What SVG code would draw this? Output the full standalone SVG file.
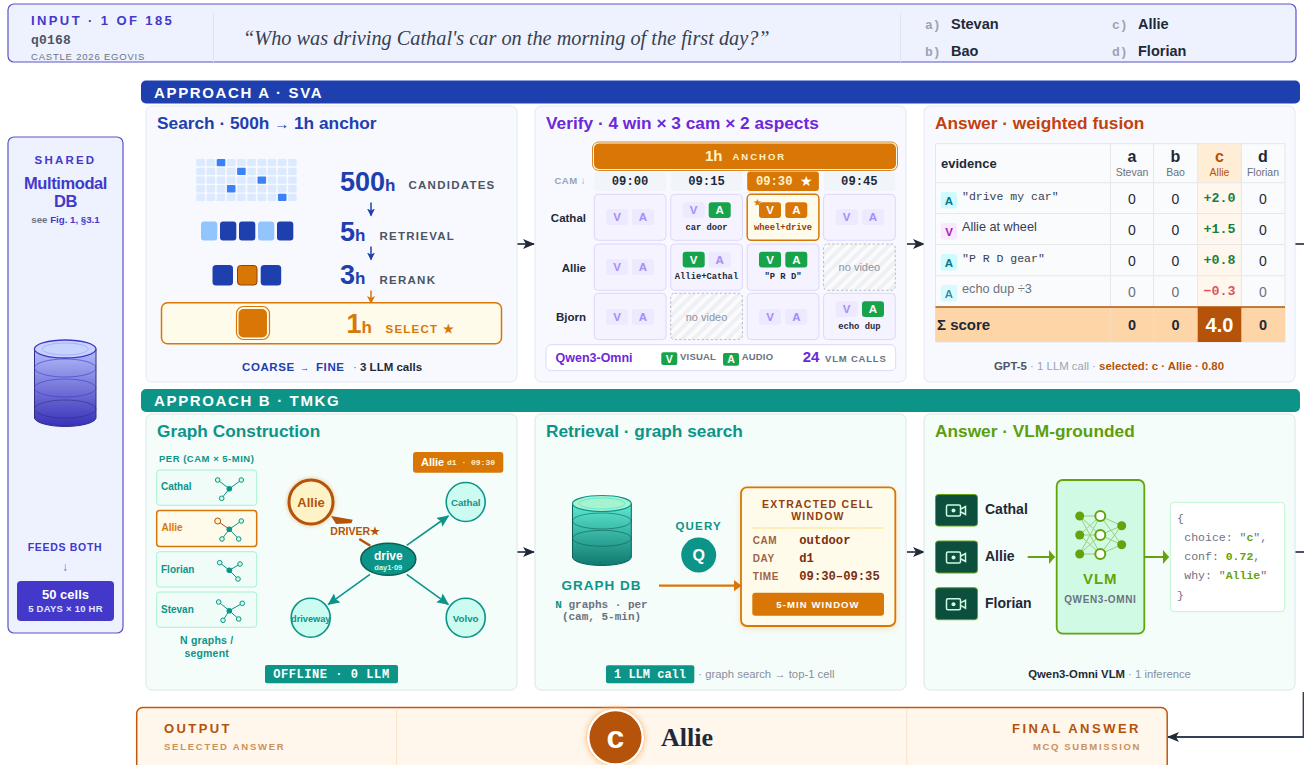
<svg xmlns="http://www.w3.org/2000/svg" width="1304" height="765" viewBox="0 0 1304 765">
<style>
text{font-family:"Liberation Sans",Arial,sans-serif;white-space:pre}
.m{font-family:"Liberation Mono","Courier New",monospace}
.s{font-family:"Liberation Serif","Times New Roman",serif}
.b{font-weight:700}
.c{text-anchor:middle}
.e{text-anchor:end}
.pa{fill:#f8f9ff;stroke:#e2e8f0;stroke-width:1}
.pb{fill:#f5fdfa;stroke:#dbe5ea;stroke-width:1}
.ttl{font-size:17.3px;font-weight:700}
.cell{fill:#f5f3ff;stroke:#ddd6fe;stroke-width:1}
.nv{fill:url(#hatch);stroke:#b6bcc6;stroke-width:1;stroke-dasharray:2.5 2}
.nvt{font-size:11px;fill:#8a94a3;text-anchor:middle}
.cf{fill:#ede9fe}
.cg{fill:#16a34a}
.co{fill:#d97706}
.tf{font-size:11.5px;font-weight:700;fill:#a78bfa;text-anchor:middle}
.tw{font-size:11.5px;font-weight:700;fill:#fff;text-anchor:middle}
.cap{font-size:8.8px;font-weight:700;fill:#1f2937;text-anchor:middle;font-family:"Liberation Mono",monospace}
.hdr{fill:#f1f5f9}
.ht{font-size:12.2px;font-weight:700;fill:#1f2937;text-anchor:middle;font-family:"Liberation Mono",monospace}
.rl{font-size:11.5px;font-weight:700;fill:#1f2937;text-anchor:end}
.num{fill:#1e40af;font-weight:700}
.stg{font-size:11.5px;font-weight:700;letter-spacing:1.25px;fill:#4b5563}
.tl{stroke:#e5e7eb;stroke-width:1;fill:none}
.z{font-size:14px;fill:#1f2937;text-anchor:middle}
.zg{font-size:14px;fill:#6b7280;text-anchor:middle}
.h1{font-size:16px;font-weight:700;fill:#1f2937;text-anchor:middle}
.h2{font-size:10.5px;fill:#6b7280;text-anchor:middle}
.v{font-size:13.3px;font-weight:700;fill:#15803d;text-anchor:middle;font-family:"Liberation Mono",monospace}
.ca{fill:#cffafe}
.ct{font-size:11.5px;font-weight:700;fill:#0e7490;text-anchor:middle}
.et{font-size:11.5px;fill:#374151;font-family:"Liberation Mono",monospace}
.zb{font-size:14.5px;font-weight:700;fill:#1f2937;text-anchor:middle}
.card{fill:#effcf8;stroke:#a7f3d0;stroke-width:1}
.cl{font-size:10px;font-weight:700;fill:#0d9488}
.gl{stroke:#0d9488;stroke-width:1;fill:none}
.sat{fill:#d1fae5;stroke:#0d9488;stroke-width:1}
.hub{fill:#0d9488}
.gn{fill:#ccfbf1;stroke:#0d9488;stroke-width:1.6}
.gt{font-size:9.7px;font-weight:700;fill:#0d9488;text-anchor:middle}
.ge{stroke:#0d9488;stroke-width:1.6;fill:none;marker-end:url(#mt)}
.kl{font-size:10px;font-weight:700;letter-spacing:.6px;fill:#a16242}
.kv{font-size:12.2px;font-weight:700;fill:#7c2d12;font-family:"Liberation Mono",monospace}
.cam{fill:#0b4f3c;stroke:#65a30d;stroke-width:1}
.ci{fill:none;stroke:#d1fae5;stroke-width:1.5}
.cn{font-size:14px;font-weight:700;fill:#1f2937}
.nf{fill:#65a30d}
.no{fill:#fff;stroke:#65a30d;stroke-width:2}
.ne{stroke:#65a30d;stroke-width:1;opacity:.5}
.j{font-size:11.5px;fill:#6b7280;font-family:"Liberation Mono",monospace}
.jb{font-weight:700;fill:#65a30d}
.conn{stroke:#1f2937;stroke-width:1.6;fill:none}
.tail{stroke:#334155;stroke-width:1.8;fill:none}
.opt{font-size:13px;font-weight:700;fill:#9ca3af;font-family:"Liberation Mono",monospace}
.ans{font-size:14.5px;font-weight:700;fill:#1f2937}
</style>
<defs>
<pattern id="hatch" width="8" height="8" patternUnits="userSpaceOnUse" patternTransform="rotate(45)"><rect width="8" height="8" fill="#fbfbfd"/><rect width="4" height="8" fill="#eef0f4"/></pattern>
<linearGradient id="gdb" x1="0" y1="0" x2="0" y2="1"><stop offset="0" stop-color="#b4bdfb"/><stop offset="1" stop-color="#3730b8"/></linearGradient>
<linearGradient id="ggdb" x1="0" y1="0" x2="0" y2="1"><stop offset="0" stop-color="#5eead4"/><stop offset="1" stop-color="#0f7a70"/></linearGradient>
<filter id="glow" x="-40%" y="-40%" width="180%" height="180%"><feGaussianBlur stdDeviation="2"/></filter>
<filter id="sh" x="-10%" y="-10%" width="120%" height="125%"><feDropShadow dx="0" dy="2" stdDeviation="3" flood-color="#d97706" flood-opacity=".2"/></filter>
<marker id="md" viewBox="0 0 12 10" refX="11" refY="5" markerWidth="12" markerHeight="10" markerUnits="userSpaceOnUse" orient="auto"><path d="M0 0L12 5L0 10L3 5Z" fill="#1f2937"/></marker>
<marker id="mt" viewBox="0 0 12 11" refX="11" refY="5.500" markerWidth="12" markerHeight="11" markerUnits="userSpaceOnUse" orient="auto"><path d="M0 0L12 5.500L0 11L2 5.500Z" fill="#0d9488"/></marker>
<marker id="mo" viewBox="0 0 8 12" refX="7.500" refY="6" markerWidth="8" markerHeight="12" markerUnits="userSpaceOnUse" orient="auto"><path d="M0 0L8 6L0 12Z" fill="#d97706"/></marker>
<marker id="ml" viewBox="0 0 6 14" refX="5.500" refY="7" markerWidth="6" markerHeight="14" markerUnits="userSpaceOnUse" orient="auto"><path d="M0 0L6 7L0 14Z" fill="#65a30d"/></marker>
<marker id="mb" viewBox="0 0 8 8" refX="7" refY="4" markerWidth="8" markerHeight="8" markerUnits="userSpaceOnUse" orient="auto"><path d="M0 0L8 4L0 8L2 4Z" fill="#1e40af"/></marker>
<marker id="mb2" viewBox="0 0 8 8" refX="7" refY="4" markerWidth="8" markerHeight="8" markerUnits="userSpaceOnUse" orient="auto"><path d="M0 0L8 4L0 8L2 4Z" fill="#d97706"/></marker>
</defs>
<rect width="1304" height="765" fill="#fff"/>

<g id="connectors">
<path class="conn" d="M517 244H534" marker-end="url(#md)"/>
<path class="conn" d="M907 244H924" marker-end="url(#md)"/>
<path class="conn" d="M517 552H534" marker-end="url(#md)"/>
<path class="conn" d="M907 552H924" marker-end="url(#md)"/>
<path class="tail" d="M1295 244H1304"/>
<path class="tail" d="M1295 552H1304"/>
<path class="tail" d="M1303.500 692V737H1168" marker-end="url(#md)"/>
</g>

<g id="input-bar">
<rect x="8" y="4" width="1288" height="58" rx="6" fill="#eef2ff" stroke="#5b52c8" stroke-width="1.2"/>
<path d="M213.500 13V62M900.500 13V62" stroke="#dfe3f0" stroke-width="1"/>
<text x="31" y="25" font-size="13" font-weight="700" letter-spacing="2.400" fill="#4338ca">INPUT · 1 OF 185</text>
<text x="31" y="44" class="m b" font-size="13" letter-spacing=".2" fill="#4b5563">q0168</text>
<text x="31" y="60" font-size="9.500" letter-spacing=".8" fill="#6b7280">CASTLE 2026 EGOVIS</text>
<text x="243" y="45" class="s" font-size="20.300" font-style="italic" fill="#374151">“Who was driving Cathal's car on the morning of the first day?”</text>
<text x="925" y="29" class="opt">a)</text><text x="951" y="29" class="ans">Stevan</text>
<text x="925" y="56" class="opt">b)</text><text x="951" y="56" class="ans">Bao</text>
<text x="1112" y="29" class="opt">c)</text><text x="1138" y="29" class="ans">Allie</text>
<text x="1112" y="56" class="opt">d)</text><text x="1138" y="56" class="ans">Florian</text>
</g>

<g id="banner-a"><rect x="141" y="80.500" width="1159" height="23" rx="5" fill="#1e40af"/><text x="154" y="98" font-size="15" font-weight="700" letter-spacing="1.650" fill="#fff">APPROACH A · SVA</text></g>
<g id="banner-b"><rect x="141" y="389" width="1159" height="23" rx="5" fill="#0d9488"/><text x="154" y="406" font-size="15" font-weight="700" letter-spacing="1.650" fill="#fff">APPROACH B · TMKG</text></g>

<g id="shared-db">
<rect x="8" y="137" width="115" height="496" rx="6" fill="#eef2ff" stroke="#5b52c8" stroke-width="1.2"/>
<text x="65.500" y="164" class="c b" font-size="11.500" letter-spacing="2.200" fill="#4338ca">SHARED</text>
<text x="65.500" y="189" class="c b" font-size="16.500" letter-spacing="-.4" fill="#4338ca">Multimodal</text>
<text x="65.500" y="206.500" class="c b" font-size="16.500" letter-spacing="-.4" fill="#4338ca">DB</text>
<text x="65.500" y="223" class="c" font-size="9.700" font-weight="700"><tspan fill="#6b7280">see </tspan><tspan fill="#4338ca">Fig. 1, §3.1</tspan></text>
<path d="M34.500 349V418A30.800 9 0 0 0 96 418V349Z" fill="url(#gdb)" stroke="#312e81" stroke-width="1"/>
<ellipse cx="65.200" cy="368" rx="30.800" ry="9" fill="none" stroke="#4338ca" stroke-opacity=".6"/>
<ellipse cx="65.200" cy="388" rx="30.800" ry="9" fill="none" stroke="#4338ca" stroke-opacity=".6"/>
<ellipse cx="65.200" cy="409" rx="30.800" ry="9" fill="none" stroke="#312e81" stroke-opacity=".6"/>
<ellipse cx="65.200" cy="349" rx="30.800" ry="9" fill="#c7d2fe" stroke="#4338ca" stroke-width="1.300"/>
<ellipse cx="65.200" cy="349" rx="23" ry="6" fill="none" stroke="#a5b4fc" stroke-width="1"/>
<text x="65" y="551" class="c b" font-size="10.500" letter-spacing=".7" fill="#4338ca">FEEDS BOTH</text>
<text x="65" y="571" class="c" font-size="12" fill="#6366f1">↓</text>
<rect x="17" y="581" width="97" height="40" rx="4" fill="#4338ca"/>
<text x="65.500" y="599" class="c b" font-size="13" fill="#fff">50 cells</text>
<text x="65.500" y="612" class="c b" font-size="9.500" letter-spacing=".25" fill="#e0e7ff">5 DAYS × 10 HR</text>
</g>

<g id="panel-search">
<rect class="pa" x="146" y="106" width="371" height="276" rx="6"/>
<text x="157" y="129" class="ttl" fill="#1e40af">Search · 500h <tspan font-size="15">→</tspan> 1h anchor</text>
<g fill="#dbeafe">
<rect x="196.300" y="159" width="8.600" height="7.300" rx="1"/><rect x="206.500" y="159" width="8.600" height="7.300" rx="1"/><rect x="216.700" y="159" width="8.600" height="7.300" rx="1" fill="#3b82f6"/><rect x="226.900" y="159" width="8.600" height="7.300" rx="1"/><rect x="237.100" y="159" width="8.600" height="7.300" rx="1"/><rect x="247.300" y="159" width="8.600" height="7.300" rx="1"/><rect x="257.500" y="159" width="8.600" height="7.300" rx="1"/><rect x="267.700" y="159" width="8.600" height="7.300" rx="1"/><rect x="277.900" y="159" width="8.600" height="7.300" rx="1"/><rect x="288.100" y="159" width="8.600" height="7.300" rx="1"/>
<rect x="196.300" y="167.700" width="8.600" height="7.300" rx="1"/><rect x="206.500" y="167.700" width="8.600" height="7.300" rx="1"/><rect x="216.700" y="167.700" width="8.600" height="7.300" rx="1"/><rect x="226.900" y="167.700" width="8.600" height="7.300" rx="1"/><rect x="237.100" y="167.700" width="8.600" height="7.300" rx="1" fill="#3b82f6"/><rect x="247.300" y="167.700" width="8.600" height="7.300" rx="1"/><rect x="257.500" y="167.700" width="8.600" height="7.300" rx="1"/><rect x="267.700" y="167.700" width="8.600" height="7.300" rx="1"/><rect x="277.900" y="167.700" width="8.600" height="7.300" rx="1"/><rect x="288.100" y="167.700" width="8.600" height="7.300" rx="1"/>
<rect x="196.300" y="176.400" width="8.600" height="7.300" rx="1"/><rect x="206.500" y="176.400" width="8.600" height="7.300" rx="1"/><rect x="216.700" y="176.400" width="8.600" height="7.300" rx="1"/><rect x="226.900" y="176.400" width="8.600" height="7.300" rx="1"/><rect x="237.100" y="176.400" width="8.600" height="7.300" rx="1"/><rect x="247.300" y="176.400" width="8.600" height="7.300" rx="1"/><rect x="257.500" y="176.400" width="8.600" height="7.300" rx="1" fill="#3b82f6"/><rect x="267.700" y="176.400" width="8.600" height="7.300" rx="1"/><rect x="277.900" y="176.400" width="8.600" height="7.300" rx="1"/><rect x="288.100" y="176.400" width="8.600" height="7.300" rx="1"/>
<rect x="196.300" y="185.100" width="8.600" height="7.300" rx="1"/><rect x="206.500" y="185.100" width="8.600" height="7.300" rx="1"/><rect x="216.700" y="185.100" width="8.600" height="7.300" rx="1"/><rect x="226.900" y="185.100" width="8.600" height="7.300" rx="1" fill="#3b82f6"/><rect x="237.100" y="185.100" width="8.600" height="7.300" rx="1"/><rect x="247.300" y="185.100" width="8.600" height="7.300" rx="1"/><rect x="257.500" y="185.100" width="8.600" height="7.300" rx="1"/><rect x="267.700" y="185.100" width="8.600" height="7.300" rx="1"/><rect x="277.900" y="185.100" width="8.600" height="7.300" rx="1"/><rect x="288.100" y="185.100" width="8.600" height="7.300" rx="1"/>
<rect x="196.300" y="193.800" width="8.600" height="7.300" rx="1"/><rect x="206.500" y="193.800" width="8.600" height="7.300" rx="1"/><rect x="216.700" y="193.800" width="8.600" height="7.300" rx="1"/><rect x="226.900" y="193.800" width="8.600" height="7.300" rx="1"/><rect x="237.100" y="193.800" width="8.600" height="7.300" rx="1"/><rect x="247.300" y="193.800" width="8.600" height="7.300" rx="1"/><rect x="257.500" y="193.800" width="8.600" height="7.300" rx="1"/><rect x="267.700" y="193.800" width="8.600" height="7.300" rx="1"/><rect x="277.900" y="193.800" width="8.600" height="7.300" rx="1" fill="#3b82f6"/><rect x="288.100" y="193.800" width="8.600" height="7.300" rx="1"/>
</g>
<g>
<rect x="201" y="221.500" width="16.300" height="19" rx="3" fill="#93c5fd"/><rect x="220" y="221.500" width="16.300" height="19" rx="3" fill="#1e40af"/><rect x="239" y="221.500" width="16.300" height="19" rx="3" fill="#1e40af"/><rect x="258" y="221.500" width="16.300" height="19" rx="3" fill="#93c5fd"/><rect x="277" y="221.500" width="16.300" height="19" rx="3" fill="#1e40af"/>
<rect x="212.500" y="265" width="20.500" height="20.500" rx="3.500" fill="#1e40af"/><rect x="237.500" y="265.500" width="19.500" height="19.500" rx="3" fill="#d97706" stroke="#92400e" stroke-width="1"/><rect x="260.700" y="265" width="20.500" height="20.500" rx="3.500" fill="#1e40af"/>
</g>
<text x="340" y="190.500" class="num" font-size="27">500<tspan font-size="17">h</tspan></text>
<text x="408.500" y="189" class="stg">CANDIDATES</text>
<text x="340" y="240.500" class="num" font-size="27">5<tspan font-size="17">h</tspan></text>
<text x="379.500" y="240" class="stg">RETRIEVAL</text>
<text x="340" y="284" class="num" font-size="27">3<tspan font-size="17">h</tspan></text>
<text x="379.500" y="284" class="stg">RERANK</text>
<path d="M371 202.500V215.500" stroke="#1e40af" stroke-width="1.500" fill="none" marker-end="url(#mb)"/>
<path d="M371 246.500V259.500" stroke="#1e40af" stroke-width="1.500" fill="none" marker-end="url(#mb)"/>
<path d="M371 290.500V303" stroke="#d97706" stroke-width="1.500" fill="none" marker-end="url(#mb2)"/>
<rect x="161.500" y="302.800" width="340" height="41" rx="6" fill="#fefbea" stroke="#d97706" stroke-width="1.500"/>
<rect x="236.500" y="306.500" width="33" height="33" rx="7" fill="#fefbea" stroke="#d97706" stroke-width="1.200"/>
<rect x="238.500" y="309" width="28.500" height="28.500" rx="5" fill="#d97706"/>
<text x="346.500" y="332.500" class="b" font-size="27" fill="#d97706">1<tspan font-size="17">h</tspan></text>
<text x="385.500" y="332.500" class="b" font-size="11.500" letter-spacing="1.250" fill="#d97706">SELECT ★</text>
<text x="242" y="370.500" class="b" font-size="11.500" letter-spacing=".6" fill="#1e40af">COARSE</text>
<text x="300" y="370.500" font-size="9" fill="#1e40af">→</text>
<text x="316" y="370.500" class="b" font-size="11.500" letter-spacing=".6" fill="#1e40af">FINE</text>
<text x="353" y="370.500" font-size="11.500" fill="#6b7280">· <tspan font-weight="700" fill="#1f2937">3 LLM calls</tspan></text>
</g>

<g id="panel-verify">
<rect class="pa" x="535" y="106" width="371" height="276" rx="6"/>
<text x="546" y="129" class="ttl" fill="#6d28d9">Verify · 4 win × 3 cam × 2 aspects</text>
<rect x="592.500" y="142" width="305" height="28.500" rx="6" fill="#fff7e6" stroke="#d9862a" stroke-width="1"/>
<rect x="594" y="143.500" width="302" height="25.500" rx="5" fill="#d97706"/>
<text x="705" y="160.700" class="b" font-size="15" fill="#fef3c7">1h</text>
<text x="732.500" y="159.500" class="b" font-size="9.500" letter-spacing="2" fill="#fef3c7">ANCHOR</text>
<text x="586" y="184" class="e b" font-size="9.500" letter-spacing=".5" fill="#94a3b8">CAM ↓</text>
<rect class="hdr" x="594.300" y="172" width="71.700" height="19" rx="3"/><rect class="hdr" x="670.700" y="172" width="71.700" height="19" rx="3"/><rect class="co" x="747.200" y="171.500" width="71.700" height="19.500" rx="3"/><rect class="hdr" x="823.600" y="172" width="71.700" height="19" rx="3"/>
<text x="630.100" y="184.500" class="ht">09:00</text><text x="706.500" y="184.500" class="ht">09:15</text><text x="774.200" y="184.500" class="ht" style="fill:#fef3c7">09:30</text><text x="806" y="186" class="c" font-size="14" fill="#fff">★</text><text x="859.400" y="184.500" class="ht">09:45</text>
<text x="586" y="221.700" class="rl">Cathal</text><text x="586" y="271.500" class="rl">Allie</text><text x="586" y="321" class="rl">Bjorn</text>

<g id="row-cathal">
<rect class="cell" x="594.300" y="194.300" width="71.700" height="46" rx="4"/><rect class="cf" x="606" y="209.300" width="22" height="15.700" rx="3"/><rect class="cf" x="632" y="209.300" width="22" height="15.700" rx="3"/><text class="tf" x="617" y="221.300">V</text><text class="tf" x="643" y="221.300">A</text>
<rect class="cell" x="670.700" y="194.300" width="71.700" height="46" rx="4"/><rect class="cf" x="682.700" y="202.300" width="22" height="15.700" rx="3"/><rect class="cg" x="708.700" y="202.300" width="22" height="15.700" rx="3"/><text class="tf" x="693.700" y="214.300">V</text><text class="tw" x="719.700" y="214.300">A</text><text class="cap" x="706.500" y="230">car door</text>
<rect x="747.200" y="194.300" width="71.700" height="46" rx="4" fill="#fffbeb" stroke="#d97706" stroke-width="1.500"/><rect class="co" x="759" y="202.300" width="22" height="15.700" rx="3"/><rect class="co" x="785.300" y="202.300" width="22" height="15.700" rx="3"/><text class="tw" x="770" y="214.300">V</text><text class="tw" x="796.300" y="214.300">A</text><text class="cap" x="783" y="230" style="fill:#92400e">wheel+drive</text><text x="757" y="206" class="c" font-size="9.500" fill="#d97706">★</text>
<rect class="cell" x="823.600" y="194.300" width="71.700" height="46" rx="4"/><rect class="cf" x="835.700" y="209.300" width="22" height="15.700" rx="3"/><rect class="cf" x="862" y="209.300" width="22" height="15.700" rx="3"/><text class="tf" x="846.700" y="221.300">V</text><text class="tf" x="873" y="221.300">A</text>
</g>
<g id="row-allie">
<rect class="cell" x="594.300" y="244" width="71.700" height="46.300" rx="4"/><rect class="cf" x="606" y="259.300" width="22" height="15.700" rx="3"/><rect class="cf" x="632" y="259.300" width="22" height="15.700" rx="3"/><text class="tf" x="617" y="271.300">V</text><text class="tf" x="643" y="271.300">A</text>
<rect class="cell" x="670.700" y="244" width="71.700" height="46.300" rx="4"/><rect class="cg" x="682.700" y="251.700" width="22" height="15.700" rx="3"/><rect class="cf" x="708.700" y="251.700" width="22" height="15.700" rx="3"/><text class="tw" x="693.700" y="263.700">V</text><text class="tf" x="719.700" y="263.700">A</text><text class="cap" x="706.500" y="279.300">Allie+Cathal</text>
<rect class="cell" x="747.200" y="244" width="71.700" height="46.300" rx="4"/><rect class="cg" x="759" y="251.700" width="22" height="15.700" rx="3"/><rect class="cg" x="785.300" y="251.700" width="22" height="15.700" rx="3"/><text class="tw" x="770" y="263.700">V</text><text class="tw" x="796.300" y="263.700">A</text><text class="cap" x="783" y="279.300">"P R D"</text>
<rect class="nv" x="823.600" y="244" width="71.700" height="46.300" rx="4"/><text class="nvt" x="859.400" y="271">no video</text>
</g>
<g id="row-bjorn">
<rect class="cell" x="594.300" y="293.300" width="71.700" height="46.300" rx="4"/><rect class="cf" x="606" y="309" width="22" height="15.700" rx="3"/><rect class="cf" x="632" y="309" width="22" height="15.700" rx="3"/><text class="tf" x="617" y="321">V</text><text class="tf" x="643" y="321">A</text>
<rect class="nv" x="670.700" y="293.300" width="71.700" height="46.300" rx="4"/><text class="nvt" x="706.500" y="320.500">no video</text>
<rect class="cell" x="747.200" y="293.300" width="71.700" height="46.300" rx="4"/><rect class="cf" x="759" y="309" width="22" height="15.700" rx="3"/><rect class="cf" x="785.300" y="309" width="22" height="15.700" rx="3"/><text class="tf" x="770" y="321">V</text><text class="tf" x="796.300" y="321">A</text>
<rect class="cell" x="823.600" y="293.300" width="71.700" height="46.300" rx="4"/><rect class="cf" x="835.700" y="301.300" width="22" height="15.700" rx="3"/><rect class="cg" x="862" y="301.300" width="22" height="15.700" rx="3"/><text class="tf" x="846.700" y="313.300">V</text><text class="tw" x="873" y="313.300">A</text><text class="cap" x="859.400" y="329">echo dup</text>
</g>
<rect x="546" y="344.700" width="349.700" height="26" rx="5" fill="#fff" stroke="#ddd6fe" stroke-width="1"/>
<text x="555.500" y="361.700" class="b" font-size="12.500" fill="#6d28d9">Qwen3-Omni</text>
<rect class="cg" x="661.300" y="352.300" width="16" height="12.700" rx="2"/><text x="669.300" y="362.700" class="c b" font-size="10.500" fill="#fff">V</text>
<text x="680" y="360" class="b" font-size="9.500" letter-spacing=".2" fill="#6b7280">VISUAL</text>
<rect class="cg" x="723" y="353" width="16" height="12.700" rx="2"/><text x="731" y="363.300" class="c b" font-size="10.500" fill="#fff">A</text>
<text x="741.700" y="360" class="b" font-size="9.500" letter-spacing=".2" fill="#6b7280">AUDIO</text>
<text x="802.700" y="361.700" class="b" font-size="15" fill="#6d28d9">24</text>
<text x="825" y="361.700" class="b" font-size="9.500" letter-spacing=".8" fill="#6b7280">VLM CALLS</text>
</g>

<g id="panel-answer-a">
<rect class="pa" x="924" y="106" width="371" height="276" rx="6"/>
<text x="935" y="129" class="ttl" fill="#c2410c">Answer · weighted fusion</text>
<rect x="935.500" y="143.700" width="349.500" height="163.300" fill="#fafbfd"/>
<rect x="1197.700" y="143.700" width="43.600" height="39" fill="#ffedd5"/>
<rect x="1197.700" y="182.700" width="43.600" height="124.300" fill="#fff7ed"/>
<path class="tl" d="M935.500 143.700H1285V342H935.500ZM935.500 182.700H1285M935.500 213.500H1285M935.500 244.500H1285M935.500 275.700H1285M1110.500 143.700V342M1153.500 143.700V342M1197.700 143.700V342M1241.300 143.700V342"/>
<rect x="935.500" y="307" width="349.500" height="35" fill="#fdd5a6"/>
<rect x="1197.700" y="307" width="43.600" height="35" fill="#b45309"/>
<path d="M1110.500 307V342M1153.500 307V342" stroke="#f3ddc1" stroke-width="1"/>
<path d="M935.500 307H1285" stroke="#b45309" stroke-width="1.500"/>
<text x="941" y="167.700" class="b" font-size="13" fill="#1f2937">evidence</text>
<text class="h1" x="1132" y="162">a</text><text class="h2" x="1132" y="176">Stevan</text>
<text class="h1" x="1175.500" y="162">b</text><text class="h2" x="1175.500" y="176">Bao</text>
<text class="h1" x="1219.500" y="162" style="fill:#b45309">c</text><text class="h2" x="1219.500" y="176" style="fill:#b45309">Allie</text>
<text class="h1" x="1263" y="162">d</text><text class="h2" x="1263" y="176">Florian</text>
<rect class="ca" x="940.700" y="192" width="16.500" height="16.500" rx="3"/><text class="ct" x="949" y="204.500">A</text><text class="et" x="962" y="200">"drive my car"</text>
<rect x="940.700" y="223" width="16.500" height="16.500" rx="3" fill="#fae8ff"/><text class="ct" x="949" y="235.500" style="fill:#a21caf">V</text><text x="962" y="231" font-size="12.700" fill="#374151">Allie at wheel</text>
<rect class="ca" x="940.700" y="254" width="16.500" height="16.500" rx="3"/><text class="ct" x="949" y="266.500">A</text><text class="et" x="962" y="262">"P R D gear"</text>
<rect class="ca" x="940.700" y="285" width="16.500" height="16.500" rx="3" opacity=".8"/><text class="ct" x="949" y="297.500" opacity=".8">A</text><text x="962" y="292.700" font-size="12.700" fill="#6b7280">echo dup ÷3</text>
<text class="z" x="1132" y="203.500">0</text><text class="z" x="1175.500" y="203.500">0</text><text class="v" x="1219.500" y="202">+2.0</text><text class="z" x="1263" y="203.500">0</text>
<text class="z" x="1132" y="234.500">0</text><text class="z" x="1175.500" y="234.500">0</text><text class="v" x="1219.500" y="233">+1.5</text><text class="z" x="1263" y="234.500">0</text>
<text class="z" x="1132" y="265.500">0</text><text class="z" x="1175.500" y="265.500">0</text><text class="v" x="1219.500" y="264">+0.8</text><text class="z" x="1263" y="265.500">0</text>
<text class="zg" x="1132" y="296.500">0</text><text class="zg" x="1175.500" y="296.500">0</text><text class="v" x="1219.500" y="295" style="fill:#d9535f">−0.3</text><text class="zg" x="1263" y="296.500">0</text>
<text x="937" y="330" class="b" font-size="15" fill="#1f2937">Σ score</text>
<text class="zb" x="1132" y="330">0</text><text class="zb" x="1175.500" y="330">0</text><text x="1219.500" y="331.700" class="c b" font-size="20" fill="#fff">4.0</text><text class="zb" x="1263" y="330">0</text>
<text x="994" y="370" font-size="11.400"><tspan font-weight="700" fill="#4b5563">GPT-5</tspan><tspan fill="#9ca3af"> · 1 LLM call · </tspan><tspan font-weight="700" fill="#b45309">selected: c · Allie · 0.80</tspan></text>
</g>

<g id="panel-graph">
<rect class="pb" x="146" y="414" width="371" height="276" rx="6"/>
<text x="157" y="437" class="ttl" fill="#0d9488">Graph Construction</text>
<text x="206.700" y="461.700" class="c b" font-size="9.500" letter-spacing=".5" fill="#0d9488">PER (CAM × 5-MIN)</text>
<rect class="card" x="156.700" y="470" width="100" height="35.300" rx="3"/><text class="cl" x="161" y="490.300">Cathal</text>
<path class="gl" d="M217.700 480L229.300 488.700L241.300 480M229.300 488.700L221.700 498.300"/><circle class="hub" cx="229.300" cy="488.700" r="2.800"/><circle class="sat" cx="217.700" cy="480" r="2.300"/><circle class="sat" cx="241.300" cy="480" r="2.300"/><circle class="sat" cx="221.700" cy="498.300" r="2.300"/>
<rect x="156.700" y="510.500" width="100" height="36" rx="3" fill="#fffbeb" stroke="#d97706" stroke-width="1.500"/><text class="cl" x="161.500" y="531.300" style="fill:#d97706">Allie</text>
<path class="gl" d="M229.300 529.300L241.300 521M229.300 529.300L222 539M229.300 529.300L238.700 539"/><path d="M217.700 521L229.300 529.300" stroke="#b45309" fill="none"/><circle class="hub" cx="229.300" cy="529.300" r="2.800"/><circle cx="217.700" cy="521" r="3" fill="#fef3c7" stroke="#b45309" stroke-width="1"/><circle class="sat" cx="241.300" cy="521" r="2.300"/><circle class="sat" cx="222" cy="539" r="2.300"/><circle class="sat" cx="238.700" cy="539" r="2.300"/>
<rect class="card" x="156.700" y="551.700" width="100" height="35.300" rx="3"/><text class="cl" x="161" y="572.700">Florian</text>
<path class="gl" d="M219.700 562.700L229.300 570.300L240 564M229.300 570.300L238 579"/><circle class="hub" cx="229.300" cy="570.300" r="2.800"/><circle class="sat" cx="219.700" cy="562.700" r="2.300"/><circle class="sat" cx="240" cy="564" r="2.300"/><circle class="sat" cx="238" cy="579" r="2.300"/>
<rect class="card" x="156.700" y="592" width="100" height="35.300" rx="3"/><text class="cl" x="161" y="612.700">Stevan</text>
<path class="gl" d="M218.700 602L229.300 610.700L242.300 603.300M229.300 610.700L223 620.300M229.300 610.700L238.700 619"/><circle class="hub" cx="229.300" cy="610.700" r="2.800"/><circle class="sat" cx="218.700" cy="602" r="2.300"/><circle class="sat" cx="242.300" cy="603.300" r="2.300"/><circle class="sat" cx="223" cy="620.300" r="2.300"/><circle class="sat" cx="238.700" cy="619" r="2.300"/>
<text x="206.700" y="644" class="c b" font-size="10.500" letter-spacing=".2" fill="#0d9488">N graphs /</text>
<text x="206.700" y="657" class="c b" font-size="10.500" letter-spacing=".2" fill="#0d9488">segment</text>
<rect x="413" y="452" width="90.300" height="20.700" rx="3" fill="#d97706"/>
<text x="421" y="465.500" class="b" font-size="11" fill="#fff">Allie</text><text x="447" y="465" class="m b" font-size="8" fill="#fef3c7">d1 · 09:30</text>
<path class="ge" d="M406.700 545.300L448.300 516"/><path class="ge" d="M406.700 574.300L448.300 604.300"/><path class="ge" d="M370 574.300L328.300 604.300"/>
<path d="M370.300 545.700L359.300 539" stroke="#b45309" stroke-width="2.500" fill="none"/>
<path d="M331 516L352.700 519.700L351.300 523.300L336 524Z" fill="#b45309"/>
<circle cx="311" cy="502" r="23.500" fill="#d97706" opacity=".5" filter="url(#glow)"/>
<circle cx="311" cy="502" r="22" fill="#fef3c7" stroke="#b45309" stroke-width="3"/>
<text x="311" y="506.500" class="c b" font-size="13" fill="#b45309">Allie</text>
<text x="330.300" y="534.700" class="b" font-size="10.500" fill="#b45309">DRIVER★</text>
<ellipse cx="388.300" cy="559.300" rx="27.500" ry="16" fill="#0d9488" stroke="#0b5f55" stroke-width="1.500"/>
<text x="388.300" y="559.500" class="c b" font-size="12" fill="#fff">drive</text>
<text x="388.300" y="569.500" class="c b" font-size="7.500" fill="#d1fae5">day1·09</text>
<circle class="gn" cx="465.700" cy="502" r="19.500"/><text class="gt" x="465.700" y="506">Cathal</text>
<circle class="gn" cx="310.700" cy="617.700" r="19.500"/><text class="gt" x="310.700" y="621.500" style="font-size:9.200px">driveway</text>
<circle class="gn" cx="465.700" cy="617.700" r="19.500"/><text class="gt" x="465.700" y="621.500">Volvo</text>
<rect x="265" y="665" width="133" height="18.300" rx="2" fill="#0d9488"/>
<text x="331.500" y="678" class="c m b" font-size="12" letter-spacing=".55" fill="#fff">OFFLINE · 0 LLM</text>
</g>

<g id="panel-retrieval">
<rect class="pb" x="535" y="414" width="371" height="276" rx="6"/>
<text x="546" y="437" class="ttl" fill="#0d9488">Retrieval · graph search</text>
<path d="M572.500 503.500V557A29.400 8.500 0 0 0 631.300 557V503.500Z" fill="url(#ggdb)" stroke="#0b5f55" stroke-width="1"/>
<ellipse cx="601.900" cy="521" rx="29.400" ry="8" fill="none" stroke="#0b5f55" stroke-opacity=".6"/>
<ellipse cx="601.900" cy="538.300" rx="29.400" ry="8" fill="none" stroke="#0b5f55" stroke-opacity=".6"/>
<ellipse cx="601.900" cy="503.500" rx="29.400" ry="8" fill="#a7f3d0" stroke="#0d9488" stroke-width="1.200"/>
<ellipse cx="601.900" cy="503.500" rx="23" ry="5.500" fill="none" stroke="#5eead4" stroke-width="1"/>
<text x="601.500" y="589.500" class="c b" font-size="13.500" letter-spacing="1" fill="#0d9488">GRAPH DB</text>
<text x="601.500" y="607.500" class="c m" font-size="11" font-weight="700" fill="#6b7280"><tspan fill="#0d9488">N</tspan> graphs · per</text>
<text x="601.500" y="620" class="c m" font-size="11" font-weight="700" fill="#6b7280">(cam, 5-min)</text>
<text x="698.700" y="530.300" class="c b" font-size="11.500" letter-spacing="1.200" fill="#0d9488">QUERY</text>
<circle cx="698.700" cy="555" r="17.500" fill="#0d9488"/>
<text x="698.700" y="560.500" class="c b" font-size="16" fill="#fff">Q</text>
<path d="M659 585.700H741" stroke="#d97706" stroke-width="2.200" fill="none" marker-end="url(#mo)"/>
<rect x="741" y="487.300" width="154.300" height="138.700" rx="6" fill="#fffbeb" stroke="#d97706" stroke-width="1.800" filter="url(#sh)"/>
<text x="818" y="507.700" class="c b" font-size="10.500" letter-spacing="1.250" fill="#92400e">EXTRACTED CELL</text>
<text x="818" y="519.500" class="c b" font-size="10.500" letter-spacing="1.250" fill="#92400e">WINDOW</text>
<path d="M752.500 528H884" stroke="#fcd34d" stroke-width="1.200" stroke-dasharray="2 1"/>
<text class="kl" x="752.700" y="543.700">CAM</text><text class="kv" x="799.300" y="543.700">outdoor</text>
<text class="kl" x="752.700" y="561.700">DAY</text><text class="kv" x="799.300" y="561.700">d1</text>
<text class="kl" x="752.700" y="579.700">TIME</text><text class="kv" x="799.300" y="579.700">09:30–09:35</text>
<rect x="752.300" y="592.700" width="131.700" height="23" rx="3" fill="#d97706"/>
<text x="818" y="607.500" class="c b" font-size="9.500" letter-spacing="1.100" fill="#fff">5-MIN WINDOW</text>
<rect x="606" y="665.300" width="88.300" height="18" rx="2" fill="#0d9488"/>
<text x="650" y="678" class="c m b" font-size="12" fill="#fff">1 LLM call</text>
<text x="698.300" y="677.700" font-size="11.300" fill="#87909d">· graph search → top-1 cell</text>
</g>

<g id="panel-answer-b">
<rect class="pb" x="924" y="414" width="371" height="276" rx="6"/>
<text x="935" y="437" class="ttl" fill="#5c9e0d">Answer · VLM-grounded</text>
<rect class="cam" x="935.500" y="494.500" width="42" height="31.500" rx="3"/><rect class="ci" x="946.500" y="505" width="14" height="11" rx="1.500"/><circle cx="953.500" cy="510.500" r="2" fill="#d1fae5"/><path class="ci" d="M961 509L965.500 506.500V514.500L961 512"/>
<text class="cn" x="985" y="514">Cathal</text>
<rect class="cam" x="935.500" y="541" width="42" height="32" rx="3"/><rect class="ci" x="946.500" y="552" width="14" height="11" rx="1.500"/><circle cx="953.500" cy="557.500" r="2" fill="#d1fae5"/><path class="ci" d="M961 556L965.500 553.500V561.500L961 559"/>
<text class="cn" x="985" y="561">Allie</text>
<rect class="cam" x="935.500" y="587.700" width="42" height="32" rx="3"/><rect class="ci" x="946.500" y="598.700" width="14" height="11" rx="1.500"/><circle cx="953.500" cy="604.200" r="2" fill="#d1fae5"/><path class="ci" d="M961 602.700L965.500 600.200V608.200L961 605.700"/>
<text class="cn" x="985" y="607.700">Florian</text>
<path d="M1027.700 557H1054.500" stroke="#65a30d" stroke-width="2" fill="none" marker-end="url(#ml)"/>
<rect x="1056.700" y="480" width="87.600" height="153.700" rx="6" fill="#d1fae5" stroke="#65a30d" stroke-width="1.800"/>
<g>
<path class="ne" d="M1079.700 516L1100.300 516M1079.700 516L1100.300 535M1079.700 516L1100.300 554M1079.700 535L1100.300 516M1079.700 535L1100.300 535M1079.700 535L1100.300 554M1079.700 554L1100.300 516M1079.700 554L1100.300 535M1079.700 554L1100.300 554M1100.300 516L1121.700 525.700M1100.300 516L1121.700 544.700M1100.300 535L1121.700 525.700M1100.300 535L1121.700 544.700M1100.300 554L1121.700 525.700M1100.300 554L1121.700 544.700"/>
<circle class="nf" cx="1079.700" cy="516" r="4.500"/><circle class="nf" cx="1079.700" cy="535" r="4.500"/><circle class="nf" cx="1079.700" cy="554" r="4.500"/>
<circle class="no" cx="1100.300" cy="516" r="5"/><circle class="no" cx="1100.300" cy="535" r="5"/><circle class="no" cx="1100.300" cy="554" r="5"/>
<circle class="nf" cx="1121.700" cy="525.700" r="4.500"/><circle class="nf" cx="1121.700" cy="544.700" r="4.500"/>
</g>
<text x="1100.300" y="584.300" class="c b" font-size="15" letter-spacing="1" fill="#65a30d">VLM</text>
<text x="1100.300" y="603.300" class="c b" font-size="10" letter-spacing=".6" fill="#6b7280">QWEN3-OMNI</text>
<path d="M1144.300 557H1168.500" stroke="#65a30d" stroke-width="2" fill="none" marker-end="url(#ml)"/>
<rect x="1170.300" y="502.300" width="114.400" height="109.400" rx="4" fill="#fff" stroke="#bbf7d0" stroke-width="1"/>
<text class="j" x="1177" y="521.700">{</text>
<text class="j" x="1184.300" y="540.700">choice: "<tspan class="jb">c</tspan>",</text>
<text class="j" x="1184.300" y="560">conf: <tspan class="jb">0.72</tspan>,</text>
<text class="j" x="1184.300" y="579">why: "<tspan class="jb">Allie</tspan>"</text>
<text class="j" x="1177" y="598.700">}</text>
<text x="1028.300" y="678.300" font-size="11.300"><tspan font-weight="700" fill="#1f2937">Qwen3-Omni VLM</tspan><tspan fill="#87909d"> · 1 inference</tspan></text>
</g>

<g id="output-bar">
<rect x="136.700" y="707.500" width="1030.500" height="70" rx="6" fill="#fff6ec" stroke="#c2570c" stroke-width="1.500"/>
<path d="M396.500 708.500V765M906.800 708.500V765" stroke="#fde3c8" stroke-width="1"/>
<text x="164" y="733" class="b" font-size="13" letter-spacing="2.400" fill="#b45309">OUTPUT</text>
<text x="164" y="749.500" class="b" font-size="9.500" letter-spacing="1.750" fill="#cd9058">SELECTED ANSWER</text>
<text x="1141" y="733" class="e b" font-size="13" letter-spacing="2.500" fill="#b45309">FINAL ANSWER</text>
<text x="1141" y="749.500" class="e b" font-size="9.500" letter-spacing="1.650" fill="#cd9058">MCQ SUBMISSION</text>
<circle cx="615.500" cy="737.300" r="31" fill="#fdba74" opacity=".45" filter="url(#glow)"/>
<circle cx="615.500" cy="737.300" r="29" fill="#fdba74"/>
<circle cx="615.500" cy="737.300" r="27.300" fill="#b45309" stroke="#fff" stroke-width="2.500"/>
<text x="615.500" y="748" class="c b" font-size="32" fill="#fff">c</text>
<text x="661" y="746" class="s b" font-size="26" fill="#1f2937">Allie</text>
</g>
</svg>
